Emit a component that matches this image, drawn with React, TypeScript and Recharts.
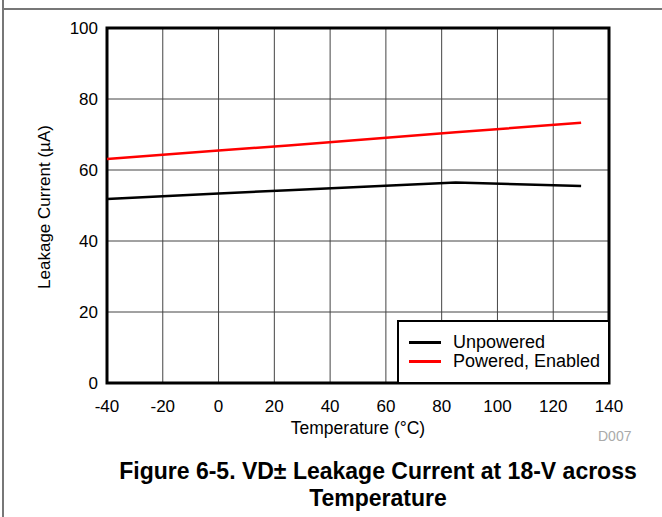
import { LineChart, Line, XAxis, YAxis, CartesianGrid, ReferenceArea } from 'recharts';

const temps = [-40, 0, 25, 85, 130];
const unpowered = [51.8, 53.4, 54.3, 56.5, 55.5];
const poweredEnabled = [63.1, 65.5, 66.9, 70.6, 73.3];

const xTicks = [-40, -20, 0, 20, 40, 60, 80, 100, 120, 140];
const yTicks = [0, 20, 40, 60, 80, 100];

const series = [
  { key: 'unpowered', name: 'Unpowered', color: '#000000' },
  { key: 'powered', name: 'Powered, Enabled', color: '#ff0000' },
];

const data = temps.map((t, i) => ({
  temp: t,
  unpowered: unpowered[i],
  powered: poweredEnabled[i],
}));

const font = '"Liberation Sans", Arial, sans-serif';

export default function App() {
  return (
    <div
      style={{
        position: 'absolute',
        left: 0,
        top: 0,
        width: 662,
        height: 517,
        background: '#fff',
        fontFamily: font,
        overflow: 'hidden',
      }}
    >
      <div style={{ position: 'absolute', left: 2, top: 0, width: 2, height: 517, background: '#777' }} />
      <div style={{ position: 'absolute', left: 2, top: 8, width: 660, height: 2, background: '#777' }} />
      <LineChart
        width={662}
        height={517}
        data={data}
        margin={{ top: 28, right: 53, left: 47, bottom: 104 }}
        style={{ position: 'absolute', left: 0, top: 0 }}
      >
        <CartesianGrid stroke="#444" strokeWidth={1} />
        <XAxis
          dataKey="temp"
          type="number"
          domain={[-40, 140]}
          ticks={xTicks}
          height={30}
          axisLine={false}
          tickLine={false}
          tickMargin={11}
          tick={{ fill: '#000', fontSize: 17, fontFamily: font }}
          label={{ value: 'Temperature (°C)', position: 'insideBottom', offset: -21, fill: '#000', fontSize: 17.5, fontFamily: font }}
        />
        <YAxis
          type="number"
          domain={[0, 100]}
          ticks={yTicks}
          width={60}
          axisLine={false}
          tickLine={false}
          tickMargin={3}
          tick={{ fill: '#000', fontSize: 17, fontFamily: font }}
        />
        <ReferenceArea x1={-40} x2={140} y1={0} y2={100} fill="none" stroke="#000" strokeWidth={3} ifOverflow="visible" />
        {series.map((s) => (
          <Line
            key={s.key}
            dataKey={s.key}
            name={s.name}
            stroke={s.color}
            strokeWidth={2.5}
            type="linear"
            dot={false}
            isAnimationActive={false}
          />
        ))}
      </LineChart>
      <div
        style={{
          position: 'absolute',
          left: 45,
          top: 207,
          transform: 'translate(-50%, -50%) rotate(-90deg)',
          whiteSpace: 'nowrap',
          fontSize: 17,
          color: '#000',
        }}
      >
        Leakage Current (µA)
      </div>
      <div
        style={{
          position: 'absolute',
          boxSizing: 'border-box',
          left: 397,
          top: 320,
          width: 213,
          height: 64,
          border: '2.5px solid #000',
          background: '#fff',
          padding: '11px 0 0 10px',
        }}
      >
        {series.map((s) => (
          <div key={s.key} style={{ display: 'flex', alignItems: 'center', height: 19, fontSize: 18, color: '#000' }}>
            <span style={{ display: 'inline-block', width: 32, height: 2.5, background: s.color, marginRight: 12 }} />
            {s.name}
          </div>
        ))}
      </div>
      <div style={{ position: 'absolute', left: 598, top: 428, fontSize: 14, color: '#aaa' }}>D007</div>
      <div
        style={{
          position: 'absolute',
          left: 60,
          width: 636,
          top: 458,
          textAlign: 'center',
          fontWeight: 'bold',
          fontSize: 23,
          lineHeight: '27px',
          color: '#000',
        }}
      >
        Figure 6-5. VD± Leakage Current at 18-V across
        <br />
        Temperature
      </div>
    </div>
  );
}
